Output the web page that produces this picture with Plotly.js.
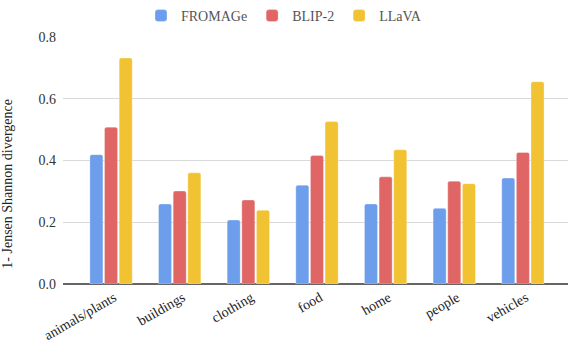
<!DOCTYPE html>
<html>
<head>
<meta charset="utf-8">
<script src="https://cdn.plot.ly/plotly-3.0.1.min.js"></script>
<style>
  html, body { margin: 0; padding: 0; background: #fff; }
  #chart { width: 568px; height: 342px; }
</style>
</head>
<body>
<div id="chart"></div>
<script>
const categories = ["animals/plants", "buildings", "clothing", "food", "home", "people", "vehicles"];
const fromage = [0.419, 0.259, 0.207, 0.320, 0.259, 0.245, 0.343];
const blip2 = [0.508, 0.301, 0.272, 0.416, 0.347, 0.333, 0.426];
const llava = [0.732, 0.360, 0.239, 0.526, 0.435, 0.325, 0.655];
const yTicks = [0, 0.2, 0.4, 0.6, 0.8];
const yTickText = ["0.0", "0.2", "0.4", "0.6", "0.8"];
const yTitle = "1- Jensen Shannon divergence";

const serif = "Liberation Serif";

function series(name, values, color) {
    return {
        type: "bar",
        name: name,
        x: categories,
        y: values,
        marker: { color: color, line: { color: "rgba(255,255,255,0.6)", width: 0.5 } },
        hoverinfo: "none"
    };
}

const data = [
    series("FROMAGe", fromage, "#6d9eeb"),
    series("BLIP-2", blip2, "#e06666"),
    series("LLaVA", llava, "#f1c232")
];

const layout = {
    width: 568,
    height: 342,
    margin: { l: 63, r: 0, t: 37, b: 58 },
    paper_bgcolor: "#fff",
    plot_bgcolor: "#fff",
    font: { family: serif, size: 13, color: "#444" },
    barmode: "group",
    bargap: 0.36,
    bargroupgap: 0.11,
    barcornerradius: 2,
    showlegend: true,
    legend: {
        orientation: "h",
        xref: "container",
        yref: "container",
        x: 0.5,
        xanchor: "center",
        y: 1,
        yanchor: "top",
        font: { family: serif, size: 14, color: "#555" },
        itemwidth: 30,
        traceorder: "normal"
    },
    xaxis: {
        type: "category",
        range: [-0.70, 6.657],
        tickangle: -30,
        showgrid: false,
        showline: false,
        ticks: "",
        ticklabelstandoff: 2,
        ticklabelshift: 3,
        ticklabeloverflow: "allow",
        tickfont: { family: serif, size: 14, color: "#222" }
    },
    yaxis: {
        range: [0, 0.8],
        tickvals: yTicks,
        ticktext: yTickText,
        showgrid: true,
        gridcolor: "#d9d9d9",
        gridwidth: 1,
        zeroline: true,
        zerolinecolor: "#666",
        zerolinewidth: 1.5,
        ticks: "",
        ticklabelstandoff: 6,
        tickfont: { family: serif, size: 14, color: "#333" }
    },
    annotations: [{
        text: yTitle,
        xref: "paper",
        yref: "paper",
        x: -0.109,
        y: 0.406,
        xanchor: "center",
        yanchor: "middle",
        textangle: -90,
        showarrow: false,
        font: { family: serif, size: 14, color: "#222" }
    }]
};

Plotly.newPlot("chart", data, layout, { displayModeBar: false, staticPlot: true });
</script>
</body>
</html>
